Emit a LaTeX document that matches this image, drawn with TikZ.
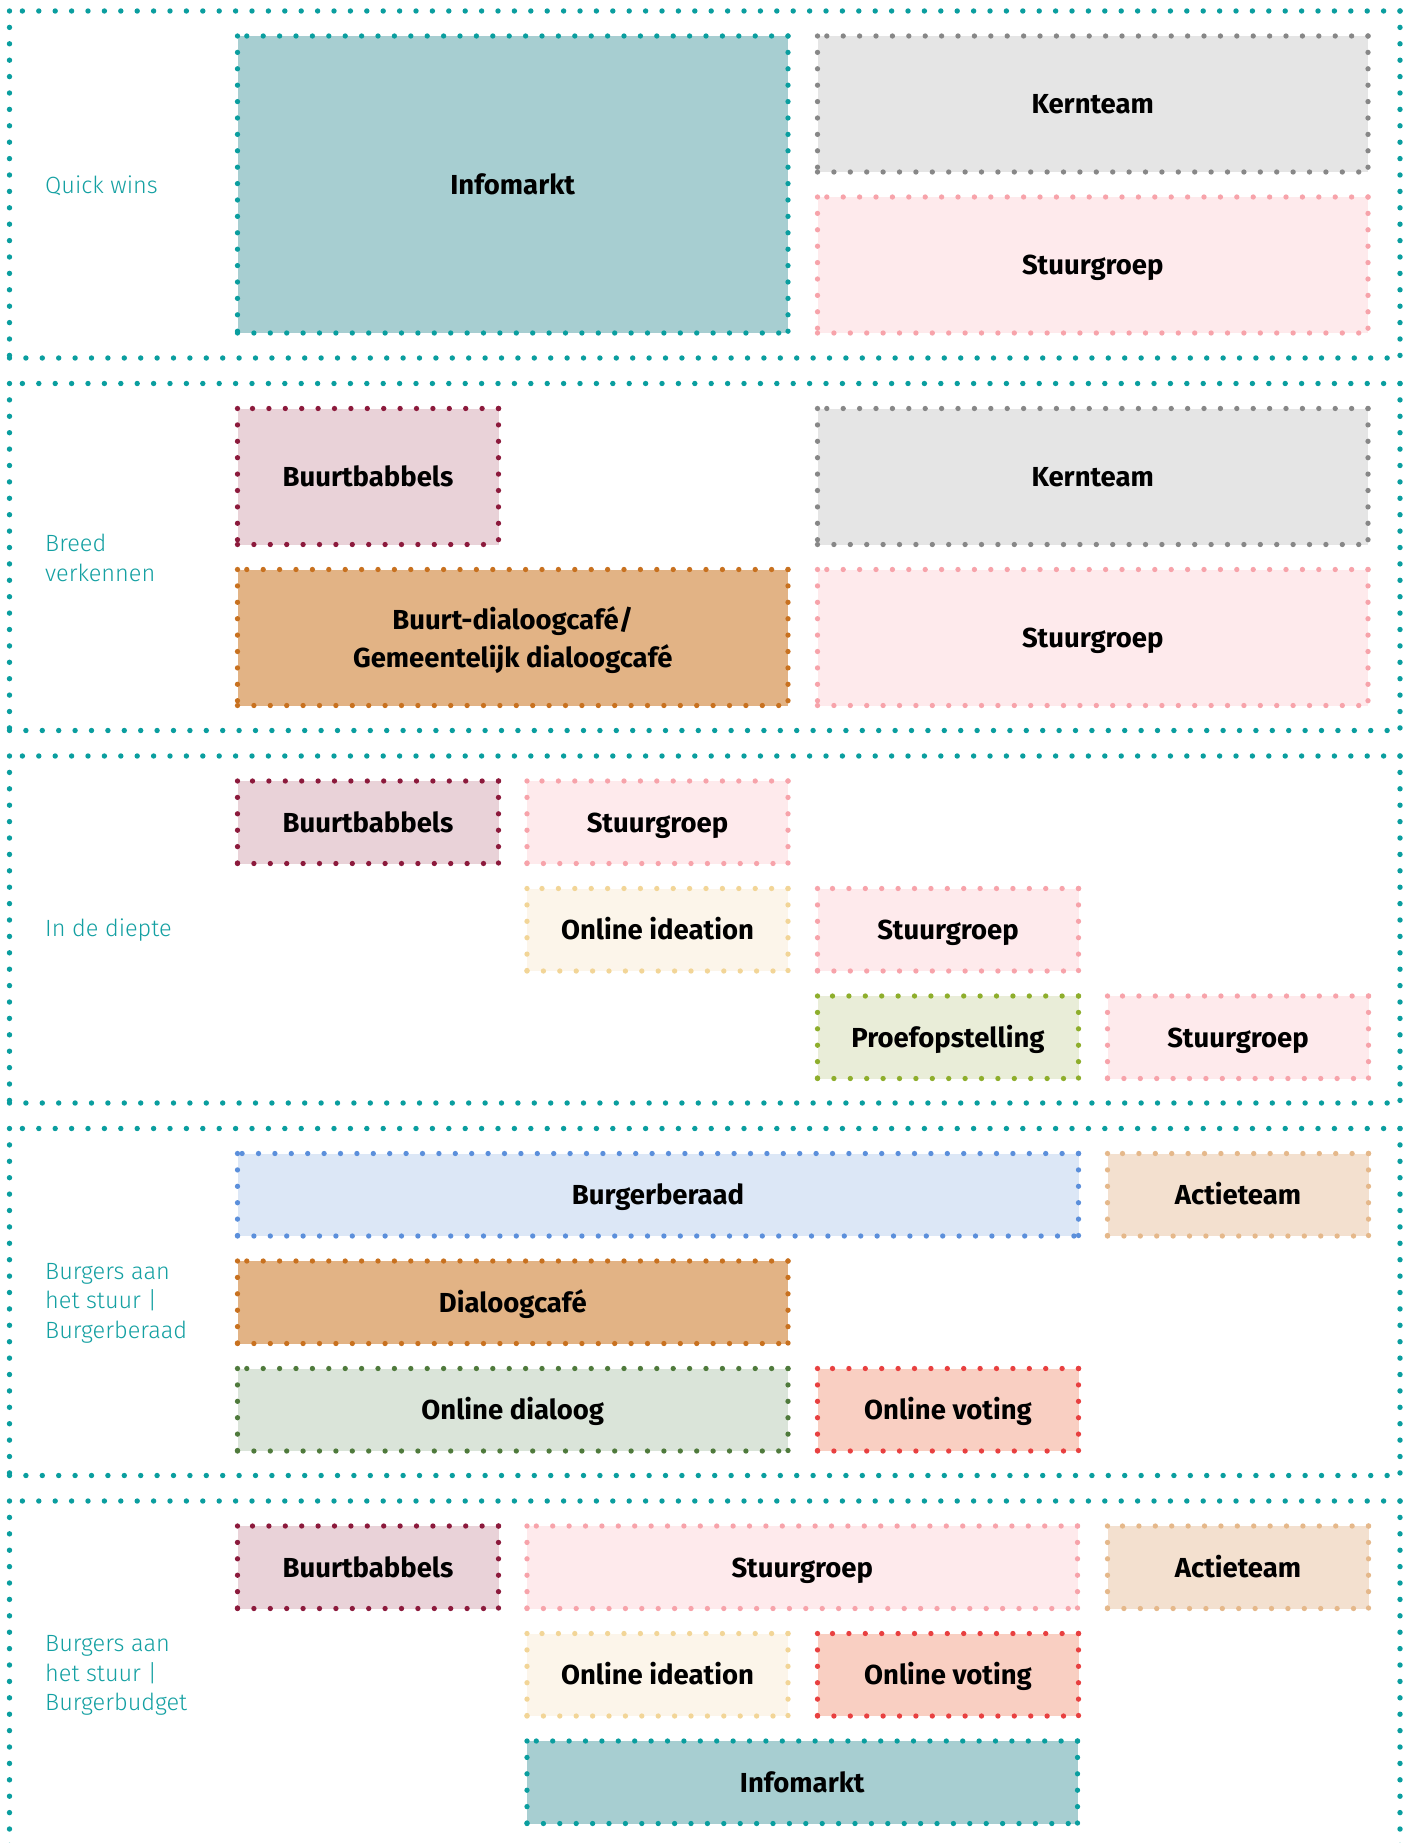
\documentclass[tikz,border=0pt]{standalone}
\usepackage{fontspec}
\setmainfont{Fira Sans}
\newfontfamily\labfont{Fira Sans Light}
\definecolor{teal0}{HTML}{0A9E9F}
\definecolor{labtxt}{HTML}{13A0A2}
\definecolor{infoF}{HTML}{A7CED1}
\definecolor{kernF}{HTML}{E5E5E5}\definecolor{kernB}{HTML}{878787}
\definecolor{stuurF}{HTML}{FEEAEC}\definecolor{stuurB}{HTML}{F7A3AA}
\definecolor{buurtF}{HTML}{E9D2D8}\definecolor{buurtB}{HTML}{8C1A3C}
\definecolor{cafeF}{HTML}{E2B385}\definecolor{cafeB}{HTML}{C8711F}
\definecolor{ideaF}{HTML}{FCF5EA}\definecolor{ideaB}{HTML}{F2D597}
\definecolor{proefF}{HTML}{E9EDD8}\definecolor{proefB}{HTML}{8EAE2C}
\definecolor{beraadF}{HTML}{DCE7F6}\definecolor{beraadB}{HTML}{5B8FDB}
\definecolor{actieF}{HTML}{F3E0CF}\definecolor{actieB}{HTML}{E5B88A}
\definecolor{dialF}{HTML}{DAE4D9}\definecolor{dialB}{HTML}{4F7A3C}
\definecolor{voteF}{HTML}{F9CFC2}\definecolor{voteB}{HTML}{E84040}
\newcommand\dotframe[3][5.3pt]{%
  \draw[dotline,line width=#1,#3] (#2.north east) -- (#2.north west);
  \draw[dotline,line width=#1,#3] (#2.south west) -- (#2.south east);
  \draw[dotline,line width=#1,#3] (#2.north west) -- (#2.south west);
  \draw[dotline,line width=#1,#3] (#2.north east) -- (#2.south east);}
\begin{document}
\begin{tikzpicture}[x=1pt,y=-1pt,
  dotline/.style={dash pattern=on 0pt off 16.4pt, line cap=round},
  frame/.style={anchor=north west, inner sep=0pt, outer sep=0pt,
    minimum width=1390.5pt, minimum height=347pt},
  lab/.style={anchor=west, align=left, text=labtxt,
    font=\labfont\fontsize{23.5}{29.5}\selectfont, inner sep=0pt},
  boxbase/.style={anchor=north west, inner sep=0pt, outer sep=0pt, align=center,
    font=\fontsize{27.5}{38}\selectfont\bfseries, text depth=0pt},
  box/.style={boxbase, text height=19.5pt},
  boxml/.style={boxbase},
  one/.style={minimum width=261pt},
  two/.style={minimum width=550.5pt},
  three/.style={minimum width=841pt},
  tall/.style={minimum height=136pt},
  short/.style={minimum height=82.5pt},
  full/.style={minimum height=297pt}]
\useasboundingbox (0,0) rectangle (1410,1843);
\clip (0,0) rectangle (1410,1843);
\fill[white] (0,0) rectangle (1410,1843);

% ---------- frames
\node[frame] (f1) at (9.5,11) {};
\node[frame] (f2) at (9.5,383.5) {};
\node[frame] (f3) at (9.5,756) {};
\node[frame] (f4) at (9.5,1128.5) {};
\node[frame] (f5) at (9.5,1501) {};
\foreach \f in {f1,f2,f3,f4,f5}{\dotframe[5.4pt]{\f}{teal0}}

% ---------- labels
\node[lab] (l1) at (45,185.5) {Quick wins};
\node[lab] (l2) at (45,558) {Breed\\verkennen};
\node[lab] (l3) at (45,930.5) {In de diepte};
\node[lab] (l4) at (45,1303) {Burgers aan\\het stuur |\\Burgerberaad};
\node[lab] (l5) at (45,1675.5) {Burgers aan\\het stuur |\\Burgerbudget};

% ---------- frame 1
\node[box,two,full,fill=infoF] (a1) at (237.5,36) {Infomarkt};
\node[box,two,tall,fill=kernF] (a2) at (817.5,36) {Kernteam};
\node[box,two,tall,fill=stuurF] (a3) at (817.5,197) {Stuurgroep};
\dotframe{a1}{teal0}\dotframe{a2}{kernB}\dotframe{a3}{stuurB}

% ---------- frame 2
\node[box,one,tall,fill=buurtF] (b1) at (237.5,408.5) {Buurtbabbels};
\node[box,two,tall,fill=kernF] (b2) at (817.5,408.5) {Kernteam};
\node[boxml,two,tall,fill=cafeF] (b3) at (237.5,569.5) {Buurt-dialoogcafé/\\Gemeentelijk dialoogcafé};
\node[box,two,tall,fill=stuurF] (b4) at (817.5,569.5) {Stuurgroep};
\dotframe{b1}{buurtB}\dotframe{b2}{kernB}\dotframe{b3}{cafeB}\dotframe{b4}{stuurB}

% ---------- frame 3
\node[box,one,short,fill=buurtF] (c1) at (237.5,781) {Buurtbabbels};
\node[box,one,short,fill=stuurF] (c2) at (527,781) {Stuurgroep};
\node[box,one,short,fill=ideaF] (c3) at (527,888.5) {Online ideation};
\node[box,one,short,fill=stuurF] (c4) at (817.5,888.5) {Stuurgroep};
\node[box,one,short,fill=proefF] (c5) at (817.5,996) {Proefopstelling};
\node[box,one,short,fill=stuurF] (c6) at (1107.5,996) {Stuurgroep};
\dotframe{c1}{buurtB}\dotframe{c2}{stuurB}\dotframe{c3}{ideaB}
\dotframe{c4}{stuurB}\dotframe{c5}{proefB}\dotframe{c6}{stuurB}

% ---------- frame 4
\node[box,three,short,fill=beraadF] (d1) at (237.5,1153.5) {Burgerberaad};
\node[box,one,short,fill=actieF] (d2) at (1107.5,1153.5) {Actieteam};
\node[box,two,short,fill=cafeF] (d3) at (237.5,1261) {Dialoogcafé};
\node[box,two,short,fill=dialF] (d4) at (237.5,1368.5) {Online dialoog};
\node[box,one,short,fill=voteF] (d5) at (817.5,1368.5) {Online voting};
\dotframe{d1}{beraadB}\dotframe{d2}{actieB}\dotframe{d3}{cafeB}
\dotframe{d4}{dialB}\dotframe{d5}{voteB}

% ---------- frame 5
\node[box,one,short,fill=buurtF] (e1) at (237.5,1526) {Buurtbabbels};
\node[box,two,short,fill=stuurF] (e2) at (527,1526) {Stuurgroep};
\node[box,one,short,fill=actieF] (e3) at (1107.5,1526) {Actieteam};
\node[box,one,short,fill=ideaF] (e4) at (527,1633.5) {Online ideation};
\node[box,one,short,fill=voteF] (e5) at (817.5,1633.5) {Online voting};
\node[box,two,short,fill=infoF] (e6) at (527,1741) {Infomarkt};
\dotframe{e1}{buurtB}\dotframe{e2}{stuurB}\dotframe{e3}{actieB}
\dotframe{e4}{ideaB}\dotframe{e5}{voteB}\dotframe{e6}{teal0}
\end{tikzpicture}
\end{document}
